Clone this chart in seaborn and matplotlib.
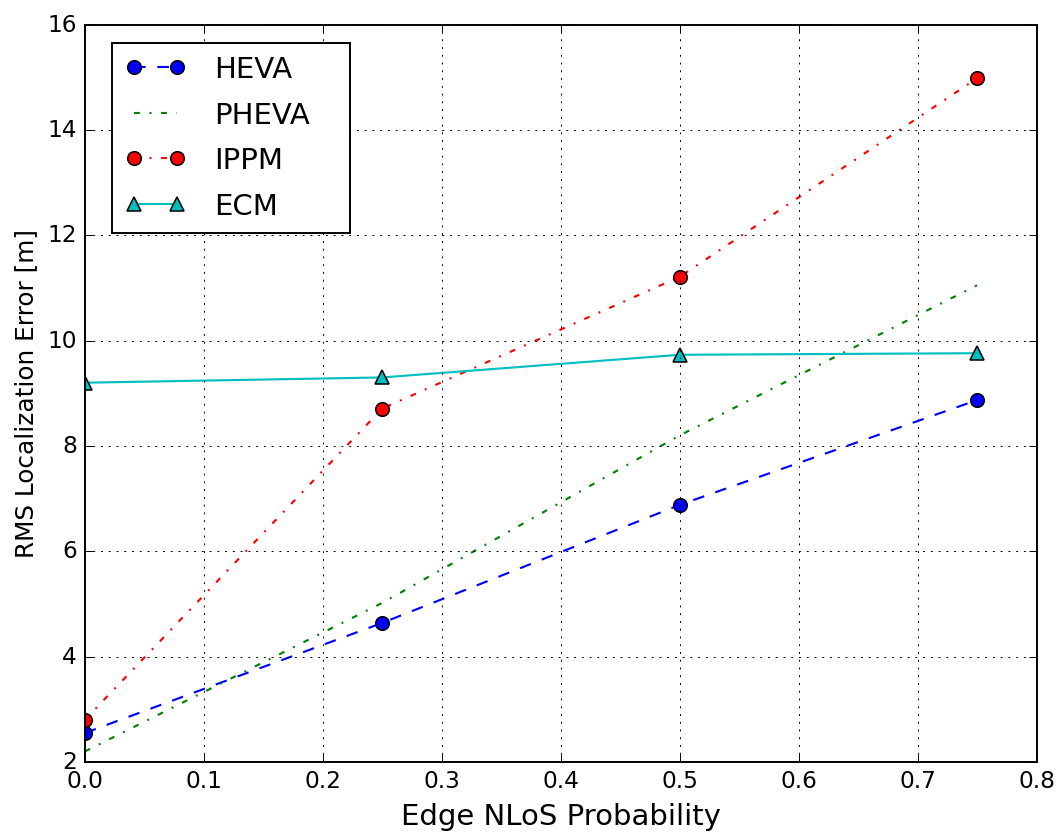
import matplotlib
matplotlib.use("Agg")
import matplotlib.pyplot as plt
import seaborn as sns
import pandas as pd

prob = [0.0, 0.25, 0.5, 0.75]
heva = [2.55, 4.64, 6.88, 8.87]
pheva = [2.2, 5.02, 8.2, 11.05]
ippm = [2.8, 8.71, 11.21, 14.98]
ecm = [9.2, 9.3, 9.73, 9.76]

plt.style.use("classic")
plt.rcParams["font.family"] = ["DejaVu Sans"]

fig = plt.figure(figsize=(7.6, 6.0), dpi=139.6)
ax = fig.add_axes([0.080, 0.0896, 0.897, 0.8804])

df = pd.DataFrame({"p": prob, "HEVA": heva, "PHEVA": pheva, "IPPM": ippm, "ECM": ecm})

sns.lineplot(data=df, x="p", y="HEVA", ax=ax, color="b", linestyle="--", marker="o",
             markersize=7, markeredgecolor="k", markeredgewidth=0.8, label="HEVA", lw=1.1)
sns.lineplot(data=df, x="p", y="PHEVA", ax=ax, color="g", linestyle="-.", label="PHEVA", lw=1.1)
sns.lineplot(data=df, x="p", y="IPPM", ax=ax, color="r", linestyle="-.", marker="o",
             markersize=7, markeredgecolor="k", markeredgewidth=0.8, label="IPPM", lw=1.1)
sns.lineplot(data=df, x="p", y="ECM", ax=ax, color="c", linestyle="-", marker="^",
             markersize=7, markeredgecolor="k", markeredgewidth=0.8, label="ECM", lw=1.1)

ax.set_xlim(0, 0.8)
ax.set_ylim(2, 16)
ax.set_xticks([0.0, 0.1, 0.2, 0.3, 0.4, 0.5, 0.6, 0.7, 0.8])
ax.set_yticks([2, 4, 6, 8, 10, 12, 14, 16])
ax.grid(True, color="k", linestyle=":")
ax.tick_params(labelsize=12)
ax.set_xlabel("Edge NLoS Probability", fontsize=15)
ax.set_ylabel("RMS Localization Error [m]", fontsize=12.75)
ax.legend(loc="upper left", numpoints=2, fontsize=15,
          bbox_to_anchor=(0.0284, 0.0, 0.25, 0.9756), mode="expand", borderaxespad=0,
          handlelength=2.1, handletextpad=0.95, labelspacing=0.6, borderpad=0.45)

fig.savefig("out.png", dpi=139.6)
